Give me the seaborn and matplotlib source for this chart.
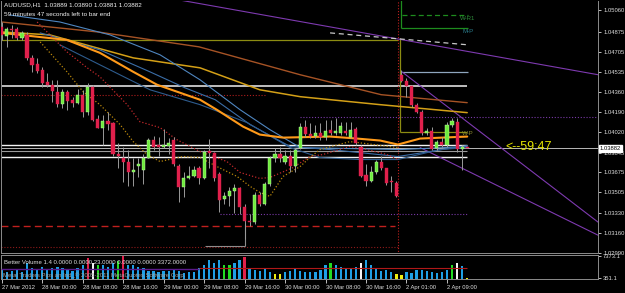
import numpy as np
import pandas as pd
import matplotlib
matplotlib.use("Agg")
import matplotlib.pyplot as plt
import matplotlib.transforms as mtransforms
import seaborn as sns

# ---------------- data ----------------
opens = [1.04916, 1.04839, 1.04899, 1.04899, 1.04822, 1.04848, 1.04652, 1.04601, 1.04550, 1.04448,
         1.04423, 1.04363, 1.04261, 1.04363, 1.04295, 1.04270, 1.04338, 1.04193, 1.04406, 1.04134,
         1.04057, 1.04117, 1.04100, 1.03828, 1.03802, 1.03768, 1.03683, 1.03734, 1.03700, 1.03802,
         1.03955, 1.03913, 1.03896, 1.03904, 1.03955, 1.03734, 1.03547, 1.03624, 1.03641, 1.03709,
         1.03624, 1.03853, 1.03845, 1.03658, 1.03445, 1.03471, 1.03513, 1.03539, 1.03377, 1.03258,
         1.03250, 1.03479, 1.03403, 1.03573, 1.03794, 1.03836, 1.03768, 1.03819, 1.03734, 1.03887,
         1.04066, 1.04006, 1.03989, 1.04015, 1.03981, 1.04040, 1.04015, 1.04015, 1.04032, 1.03981,
         1.04049, 1.03896, 1.03649, 1.03598, 1.03675, 1.03768, 1.03709, 1.03598, 1.03581, 1.04508,
         1.04457, 1.04414, 1.04253, 1.04193, 1.04015, 1.04032, 1.03887, 1.03938, 1.03913, 1.04083,
         1.04108, 1.03879, 1.03889]
highs = [1.04958, 1.04916, 1.04933, 1.04916, 1.04882, 1.04873, 1.04678, 1.04652, 1.04576, 1.04525,
         1.04465, 1.04465, 1.04389, 1.04380, 1.04321, 1.04389, 1.04380, 1.04440, 1.04423, 1.04168,
         1.04168, 1.04193, 1.04108, 1.03930, 1.03896, 1.03870, 1.03802, 1.03802, 1.03828, 1.03972,
         1.03989, 1.03981, 1.04049, 1.03972, 1.03981, 1.03743, 1.03675, 1.03734, 1.03734, 1.03726,
         1.03870, 1.03964, 1.03853, 1.03675, 1.03505, 1.03547, 1.03573, 1.03547, 1.03403, 1.03318,
         1.03505, 1.03505, 1.03590, 1.03811, 1.03887, 1.03896, 1.03870, 1.03870, 1.03887, 1.04100,
         1.04125, 1.04100, 1.04083, 1.04100, 1.04125, 1.04125, 1.04142, 1.04108, 1.04108, 1.04108,
         1.04066, 1.03913, 1.03743, 1.03726, 1.03785, 1.03811, 1.03717, 1.03641, 1.03598, 1.04550,
         1.04482, 1.04423, 1.04270, 1.04210, 1.04057, 1.04066, 1.03955, 1.03981, 1.04108, 1.04142,
         1.04142, 1.03913, 1.03890]
lows = [1.04805, 1.04746, 1.04822, 1.04805, 1.04805, 1.04635, 1.04533, 1.04525, 1.04406, 1.04406,
        1.04278, 1.04236, 1.04227, 1.04210, 1.04236, 1.04261, 1.04151, 1.04168, 1.04117, 1.04057,
        1.03913, 1.04040, 1.03811, 1.03717, 1.03590, 1.03556, 1.03556, 1.03632, 1.03573, 1.03802,
        1.03870, 1.03811, 1.03887, 1.03828, 1.03726, 1.03420, 1.03462, 1.03615, 1.03632, 1.03573,
        1.03615, 1.03717, 1.03598, 1.03335, 1.03403, 1.03386, 1.03326, 1.03318, 1.03105, 1.03216,
        1.03233, 1.03386, 1.03394, 1.03556, 1.03768, 1.03760, 1.03743, 1.03683, 1.03675, 1.03879,
        1.03981, 1.03972, 1.03972, 1.03955, 1.03955, 1.03998, 1.03998, 1.03998, 1.03998, 1.03972,
        1.03913, 1.03632, 1.03556, 1.03590, 1.03658, 1.03700, 1.03564, 1.03505, 1.03462, 1.04448,
        1.04321, 1.04236, 1.04185, 1.03998, 1.03998, 1.03870, 1.03870, 1.03896, 1.03896, 1.04066,
        1.03853, 1.03700, 1.03881]
closes = [1.04848, 1.04899, 1.04890, 1.04822, 1.04865, 1.04652, 1.04593, 1.04542, 1.04440, 1.04423,
          1.04372, 1.04261, 1.04363, 1.04287, 1.04270, 1.04338, 1.04193, 1.04406, 1.04125, 1.04057,
          1.04117, 1.04091, 1.03828, 1.03811, 1.03768, 1.03675, 1.03700, 1.03743, 1.03802, 1.03955,
          1.03896, 1.03896, 1.03913, 1.03930, 1.03743, 1.03547, 1.03624, 1.03641, 1.03700, 1.03624,
          1.03853, 1.03845, 1.03624, 1.03437, 1.03471, 1.03513, 1.03539, 1.03377, 1.03258, 1.03250,
          1.03479, 1.03403, 1.03573, 1.03794, 1.03836, 1.03794, 1.03819, 1.03734, 1.03870, 1.04066,
          1.04006, 1.03989, 1.04015, 1.03981, 1.04032, 1.04015, 1.04032, 1.04074, 1.04015, 1.04040,
          1.03930, 1.03641, 1.03598, 1.03675, 1.03768, 1.03717, 1.03581, 1.03590, 1.03471, 1.04457,
          1.04414, 1.04253, 1.04193, 1.04015, 1.04032, 1.03879, 1.03938, 1.03913, 1.04083, 1.04117,
          1.03879, 1.03896, 1.03882]

volumes = [3035, 2493, 2818, 3035, 2493, 5203, 3577, 3252, 4119, 3035,
           3577, 4119, 3577, 3252, 2818, 3577, 4661, 6829, 5203, 4661,
           4661, 4119, 5203, 5745, 7373, 4661, 4661, 4119, 3577, 2818,
           2818, 2493, 2818, 2818, 3035, 2818, 1951, 2493, 2493, 3577,
           4661, 6287, 5203, 6287, 4661, 4661, 5203, 6287, 7154, 3577,
           3035, 2818, 3252, 2493, 1734, 1734, 2493, 2818, 3577, 2818,
           2493, 2493, 2493, 3035, 4661, 5203, 4661, 4119, 3577, 3577,
           4119, 5203, 6287, 4661, 3577, 2818, 3035, 2493, 1734, 1409,
           2493, 1951, 3035, 3035, 2818, 2493, 2168, 2493, 3035, 4661,
           5203, 4444, 351]
vol_kinds = ("bbbbbbbbbb" "bbbbbbbrwg" "bbbgrbbbbb" "bbbbbbbbbb" "bbbbggbbrb"
             "bbbbyybbbb" "bbbbbgbbbb" "bwbbbbbbyy" "bbbbbbbbbg" "wby")

tick_bars = [0, 8, 16, 24, 32, 40, 48, 56, 64, 72, 80, 88]
tick_labels = ["27 Mar 2012", "28 Mar 00:00", "28 Mar 08:00", "28 Mar 16:00", "29 Mar 00:00",
               "29 Mar 08:00", "29 Mar 16:00", "30 Mar 00:00", "30 Mar 08:00", "30 Mar 16:00",
               "2 Apr 01:00", "2 Apr 09:00"]
price_labels = ["1.05060", "1.04875", "1.04705", "1.04535", "1.04360", "1.04190", "1.04020",
                "1.03845", "1.03675", "1.03505", "1.03330", "1.03160", "1.02990"]
vol_labels = ["7373.1", "351.1"]
last_price = 1.03882

# indicator lines: (bar position, price)
brown_bar = [0, 19, 39, 59, 75, 92]
brown_px = [1.04958, 1.04873, 1.04746, 1.04508, 1.04338, 1.04270]
gold_bar = [0, 9.5, 26, 39.2, 51, 59, 74.8, 92]
gold_px = [1.04873, 1.04848, 1.04652, 1.04567, 1.04380, 1.04321, 1.04253, 1.04185]
orange_bar = [0, 12.9, 19.4, 26, 30.7, 39.2, 42.5, 47.7, 51, 55.6, 64.9, 70.2, 74.8, 78.3, 82.7, 92]
orange_px = [1.04865, 1.04805, 1.04695, 1.04533, 1.04423, 1.04295, 1.04210, 1.04066, 1.03998,
             1.03972, 1.03981, 1.03964, 1.03947, 1.03913, 1.03964, 1.03981]
blueA_bar = [1.6, 11.5, 21.4, 31.3, 39.2, 47.1, 53.0, 59.0, 78.7, 92]
blueA_px = [1.05018, 1.04958, 1.04848, 1.04678, 1.04465, 1.04210, 1.04040, 1.03887, 1.03870, 1.03896]
blueB_bar = [7.6, 19.4, 29.3, 36.2, 42.2, 49.1, 57, 64.9, 78.3, 84.6, 92]
blueB_px = [1.04865, 1.04720, 1.04533, 1.04397, 1.04295, 1.04083, 1.03896, 1.03870, 1.03811,
            1.03853, 1.03904]
blueC_bar = [11.5, 21.4, 29.3, 39.2, 48.5, 57, 62.9, 70.8, 78.3, 86.6, 92]
blueC_px = [1.04763, 1.04550, 1.04380, 1.04253, 1.04100, 1.03887, 1.03802, 1.03785, 1.03785,
            1.03870, 1.03887]
reddot_bar = [7.0, 12.9, 16.9, 19.4, 24.8, 27.3, 31.3, 34.6, 39.2, 44.5, 47.1, 51.0, 53.0, 57.6,
              60.9, 63.5, 68.8, 72.2, 76.1, 78.3]
reddot_px = [1.04958, 1.04703, 1.04567, 1.04491, 1.04253, 1.04108, 1.04057, 1.03955, 1.03853,
             1.03768, 1.03675, 1.03624, 1.03632, 1.03717, 1.03811, 1.03828, 1.03896, 1.03870,
             1.03828, 1.03785]
golddot_bar = [7.6, 12.9, 16.1, 19.4, 23.4, 26.0, 28.7, 31.3, 35.8, 39.2, 42.5, 46.5, 49.1, 51.0,
               53.0, 55.6, 59.0, 60.9, 62.9, 68.8, 78.3]
golddot_px = [1.04788, 1.04533, 1.04363, 1.04253, 1.04083, 1.03938, 1.03828, 1.03768, 1.03811,
              1.03802, 1.03726, 1.03641, 1.03556, 1.03505, 1.03471, 1.03641, 1.03726, 1.03802,
              1.03870, 1.03938, 1.03887]

# horizontal levels
white_top = 1.04408
white_low1 = 1.03913
grey_low = 1.03862
white_low2 = 1.03805
olive_level = 1.04805
olive_box_low = 1.04023
steel_level = 1.04533
reddot_level = 1.04338
reddash_level = 1.03216
darkred_level = 1.03037
purple_hi = 1.04146
purple_lo = 1.03318
green_solid = 1.04907
green_dash = 1.05018
grey_l_low, grey_l_high = 1.03046, 1.03233
vol_avg_purple = 3372
vol_avg_red = 3589

# ---------------- figure ----------------
sns.set_theme(style="dark", rc={"axes.facecolor": "black", "figure.facecolor": "black"})
plt.rcParams["font.family"] = ["Liberation Sans", "DejaVu Sans"]

fig = plt.figure(figsize=(6.25, 2.93), dpi=100, facecolor="black")
ax = fig.add_axes([1 / 625, 40 / 293, 597 / 625, 252 / 293], facecolor="black")
vax = fig.add_axes([1 / 625, 13.7 / 293, 597 / 625, 24.5 / 293], facecolor="black")

XMIN, XMAX = -0.14, 117.85
n = len(opens)
idx = np.arange(n)
o = np.array(opens); h = np.array(highs); l = np.array(lows); c = np.array(closes)


def line(xs, ys, color, lw, ls="-", z=2):
    sns.lineplot(x=xs, y=ys, ax=ax, color=color, linewidth=lw, linestyle=ls,
                 sort=False, estimator=None, legend=False, zorder=z)


DOT = (0, (1, 1.6))
# horizontal / structural lines
ax.hlines(olive_level, XMIN, 78.3, color="#8C8C12", lw=0.9, zorder=2)
ax.hlines(white_top, XMIN, 92, color="#F2F2F2", lw=1.1, zorder=2)
ax.hlines(reddot_level, XMIN, 52, color="#B01E1E", lw=0.8, linestyle=DOT, zorder=2)
ax.hlines(white_low1, XMIN, 92, color="#F2F2F2", lw=1.0, zorder=2)
ax.hlines(grey_low, XMIN, 92, color="#9A9A9A", lw=0.8, zorder=2)
ax.hlines(white_low2, XMIN, 92, color="#F2F2F2", lw=1.0, zorder=2)
ax.hlines(last_price, XMIN, XMAX, color="#B8B8B8", lw=0.7, zorder=2)
ax.hlines(reddash_level, XMIN, 77.7, color="#C0201E", lw=1.0, linestyle=(0, (5, 3)), zorder=2)
ax.hlines(darkred_level, XMIN, 78.3, color="#8E1A1A", lw=0.8, linestyle=DOT, zorder=2)
ax.hlines(purple_hi, 58.9, XMAX, color="#7A3AA8", lw=0.8, linestyle=DOT, zorder=2)
ax.hlines(purple_lo, 43.1, 92, color="#7A3AA8", lw=0.8, linestyle=DOT, zorder=2)
ax.hlines(steel_level, 79.1, 92.2, color="#8FA6BE", lw=0.9, zorder=2)
ax.hlines(green_solid, 78.9, 92.2, color="#1E8C1E", lw=0.9, zorder=2)
ax.hlines(green_dash, 79.1, 92.2, color="#1E8C1E", lw=0.9, linestyle=(0, (4, 2.5)), zorder=2)
ax.vlines(78.9, green_solid, 1.0516, color="#1E8C1E", lw=0.9, zorder=2)
ax.vlines(78.7, olive_box_low, 1.04822, color="#8C8C12", lw=0.9, zorder=2)
ax.hlines(olive_box_low, 78.7, 92, color="#8C8C12", lw=0.9, zorder=2)
ax.vlines(78.3, 1.0290, 1.0516, color="#C0201E", lw=0.8, linestyle=DOT, zorder=2)
ax.hlines(grey_l_low, 40.2, 48.1, color="#8C8C8C", lw=0.8, zorder=2)
ax.vlines(48.1, grey_l_low, grey_l_high, color="#8C8C8C", lw=0.8, zorder=2)

# trend lines
line([35.2, 117.9], [1.05145, 1.04508], "#7E3AB0", 0.8)
line([79.1, 117.9], [1.04533, 1.03250], "#7E3AB0", 0.8)
line([82.7, 117.9], [1.03887, 1.03139], "#7E3AB0", 0.8)
line([64.9, 92.2], [1.04865, 1.04763], "#C8C8C8", 0.9, (0, (4, 3)))

# moving averages
line(brown_bar, brown_px, "#A65325", 1.0)
line(gold_bar, gold_px, "#D4A017", 1.1)
line(blueA_bar, blueA_px, "#4F86C0", 0.8)
line(blueB_bar, blueB_px, "#3B6EA8", 0.8)
line(blueC_bar, blueC_px, "#2E5C8E", 0.8)
line(reddot_bar, reddot_px, "#C0282A", 0.9, DOT)
line(golddot_bar, golddot_px, "#B8860B", 0.9, DOT)
line(orange_bar, orange_px, "#FF9A1A", 1.5, z=3)

# candles
lo_w = np.minimum(l, np.minimum(o, c))
hi_w = np.maximum(h, np.maximum(o, c))
ax.vlines(idx, lo_w, hi_w, color="#9A9A9A", lw=0.7, zorder=4)
up = c >= o
body = np.maximum(np.abs(c - o), 0.00009)
bottom = np.minimum(o, c)
ax.bar(idx[up], body[up], bottom=bottom[up], width=0.62, color="#6EEB3C",
       edgecolor="#C8FFB0", linewidth=0.3, zorder=5)
ax.bar(idx[~up], body[~up], bottom=bottom[~up], width=0.62, color="#E0204C",
       edgecolor="#E0204C", linewidth=0.3, zorder=5)

ax.set_xlim(XMIN, XMAX)
ax.set_ylim(1.02988, 1.05137)
ax.set_xticks([])
ax.set_xlabel("")
ax.set_ylabel("")
ax.yaxis.tick_right()
ax.set_yticks([float(s) for s in price_labels])
ax.set_yticklabels(price_labels)
ax.tick_params(axis="y", colors="#DDDDDD", labelsize=4.2, length=2.5, width=0.6,
               pad=1.5, direction="out", right=True, left=False)
ax.grid(False)
for side, sp in ax.spines.items():
    sp.set_color("#8C8C8C")
    sp.set_linewidth(0.7)
    sp.set_visible(side != "top")

# labels inside the chart
ax.text(90.6, 1.04992, "W-R1", color="#2E8B3A", fontsize=4.4, ha="left", va="center", zorder=6)
ax.text(91.0, 1.04873, "M-P", color="#2A7A8A", fontsize=4.4, ha="left", va="center", zorder=6)
ax.text(91.0, 1.04006, "W-P", color="#8C8C30", fontsize=4.4, ha="left", va="center", zorder=6)
ax.text(99.5, last_price + 0.00008, "<--59:47", color="#E6E600", fontsize=9, ha="left",
        va="center", zorder=6)
trans = mtransforms.blended_transform_factory(ax.transAxes, ax.transData)
ax.text(1.003, last_price, f"{last_price:.5f}", transform=trans, color="black", fontsize=4.2,
        ha="left", va="center", clip_on=False, zorder=10,
        bbox=dict(boxstyle="square,pad=0.18", fc="white", ec="white"))

fig.text(4 / 625, 1 - 5 / 293, "AUDUSD,H1  1.03889 1.03890 1.03881 1.03882", color="#F0F0F0",
         fontsize=4.6, ha="left", va="center")
fig.text(4 / 625, 1 - 14 / 293, "59 minutes 47 seconds left to bar end", color="#F0F0F0",
         fontsize=4.6, ha="left", va="center")

# volume panel
vpal = {"b": "#1EA0E6", "r": "#E0204C", "w": "#F4F4F4", "g": "#22DD22", "y": "#EEEE10"}
vdf = pd.DataFrame({"bar": idx, "vol": volumes, "kind": list(vol_kinds)})
sns.barplot(data=vdf, x="bar", y="vol", hue="kind", palette=vpal, dodge=False,
            native_scale=True, width=0.45, legend=False, errorbar=None, saturation=1,
            linewidth=0, ax=vax)
vax.hlines(vol_avg_red, 39, 92, color="#B01818", lw=0.8, zorder=5)
vax.hlines(vol_avg_purple, XMIN, 39, color="#5A1A8A", lw=1.0, zorder=5)
vax.set_xlim(XMIN, XMAX)
vax.set_ylim(0, 7900)
vax.set_xlabel("")
vax.set_ylabel("")
vax.grid(False)
vax.yaxis.tick_right()
vax.set_yticks([7373.1, 351.1])
vax.set_yticklabels(vol_labels)
vax.tick_params(axis="y", colors="#DDDDDD", labelsize=4.2, length=2, width=0.6, pad=1.5,
                right=True, left=False)
vax.set_xticks(tick_bars)
vax.set_xticklabels(tick_labels)
for lb in vax.get_xticklabels():
    lb.set_ha("left")
vax.tick_params(axis="x", colors="#DDDDDD", labelsize=4.2, length=3, width=0.6, pad=0.8,
                bottom=True, direction="out")
for side, sp in vax.spines.items():
    sp.set_color("#8C8C8C")
    sp.set_linewidth(0.7)
    sp.set_visible(True)

fig.text(4 / 625, 1 - 262 / 293, "Better Volume 1.4 0.0000 0.0000 23.0000 0.0000 0.0000 3372.0000",
         color="#E0E0E0", fontsize=4.3, ha="left", va="center")
fig.text(3 / 625, 1 - 275 / 293, "Metal Traders Pips an Ind_\u00a9 2005-2011 MetaQuotes Software Corp.",
         color="#A0A0A0", fontsize=4.3, ha="left", va="center")

fig.savefig("out.png", dpi=100, facecolor="black")
